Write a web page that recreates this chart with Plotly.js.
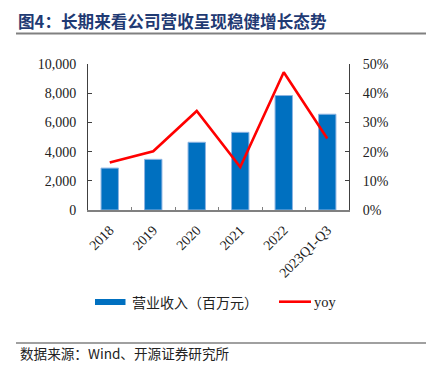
<!DOCTYPE html>
<html>
<head>
<meta charset="utf-8">
<script src="https://cdn.plot.ly/plotly-3.0.1.min.js"></script>
<style>html,body{margin:0;padding:0;background:#fff}#chart{width:426px;height:366px}</style>
</head>
<body>
<div id="chart"></div>
<script>
var categories = ["2018", "2019", "2020", "2021", "2022", "2023Q1-Q3"];
var revenue = [2870, 3470, 4640, 5320, 7840, 6560];
var yoy = [0.163, 0.201, 0.339, 0.147, 0.472, 0.245];
var revenueName = "营业收入（百万元）";
var yoyName = "yoy";
var titleText = "图4：长期来看公司营收呈现稳健增长态势";
var sourceText = "数据来源：Wind、开源证券研究所";

var serif = "'Liberation Serif', 'Times New Roman', serif";
var cjk = "'Noto Sans CJK SC', sans-serif";

var L = 88, R = 77, T = 64, B = 156, W = 426, H = 366;
var pw = W - L - R, ph = H - T - B;
function px(x) { return (x - L) / pw; }
function py(y) { return (H - B - y) / ph; }

var traces = [
  {
    type: "bar", x: categories, y: revenue, name: revenueName,
    marker: {color: "#0070C0", line: {color: "#8DB4E2", width: 1}},
    yaxis: "y", showlegend: false, hoverinfo: "skip"
  },
  {
    type: "scatter", mode: "lines", x: categories, y: yoy, name: yoyName,
    line: {color: "#FF0000", width: 2.6},
    yaxis: "y2", showlegend: false, hoverinfo: "skip"
  }
];

var layout = {
  width: W, height: H,
  margin: {l: L, r: R, t: T, b: B},
  paper_bgcolor: "#fff", plot_bgcolor: "#fff",
  bargap: 0.6,
  showlegend: false,
  xaxis: {
    type: "category",
    tickangle: -45,
    tickfont: {family: serif, size: 14, color: "#222"},
    showline: true, linecolor: "#808080", linewidth: 1.5,
    ticks: "inside", ticklen: 3, tickcolor: "#808080", tickson: "boundaries",
    showgrid: false, zeroline: false, fixedrange: true, ticklabelstandoff: 5
  },
  yaxis: {
    range: [0, 10000], dtick: 2000, tickformat: ",d",
    tickfont: {family: serif, size: 14, color: "#222"},
    showline: true, linecolor: "#404040", linewidth: 1,
    ticks: "inside", ticklen: 4, tickcolor: "#404040",
    showgrid: false, zeroline: false, ticklabelstandoff: 8
  },
  yaxis2: {
    overlaying: "y", side: "right",
    range: [0, 0.5], dtick: 0.1, tickformat: ".0%",
    tickfont: {family: serif, size: 14, color: "#222"},
    showline: true, linecolor: "#404040", linewidth: 1,
    ticks: "inside", ticklen: 4, tickcolor: "#404040",
    showgrid: false, zeroline: false, ticklabelstandoff: 10
  },
  title: {
    text: "<b>" + titleText + "</b>",
    x: 18 / W, xanchor: "left", xref: "container",
    y: 1 - 22 / H, yanchor: "middle", yref: "container",
    font: {family: cjk, size: 16.6, color: "#1F3A73"}
  },
  shapes: [
    {type: "line", xref: "paper", yref: "paper", x0: px(16), x1: px(426), y0: py(33.5), y1: py(33.5),
     line: {color: "#808080", width: 2}},
    {type: "line", xref: "paper", yref: "paper", x0: px(16), x1: px(426), y0: py(343), y1: py(343),
     line: {color: "#808080", width: 1.5}},
    {type: "rect", xref: "paper", yref: "paper", x0: px(95), x1: px(125.5), y0: py(305), y1: py(299),
     fillcolor: "#0070C0", line: {width: 0}},
    {type: "line", xref: "paper", yref: "paper", x0: px(279), x1: px(311), y0: py(301.7), y1: py(301.7),
     line: {color: "#FF0000", width: 2.6}}
  ],
  annotations: [
    {xref: "paper", yref: "paper", x: px(130), y: py(302), xanchor: "left", yanchor: "middle",
     text: revenueName, showarrow: false, font: {family: cjk, size: 14, color: "#222"}},
    {xref: "paper", yref: "paper", x: px(312), y: py(302), xanchor: "left", yanchor: "middle",
     text: yoyName, showarrow: false, font: {family: serif, size: 14.5, color: "#222"}},
    {xref: "paper", yref: "paper", x: px(18), y: py(353), xanchor: "left", yanchor: "middle",
     text: sourceText, showarrow: false, font: {family: cjk, size: 13.6, color: "#222"}}
  ]
};

Plotly.newPlot("chart", traces, layout, {staticPlot: true, displayModeBar: false});
</script>
</body>
</html>
